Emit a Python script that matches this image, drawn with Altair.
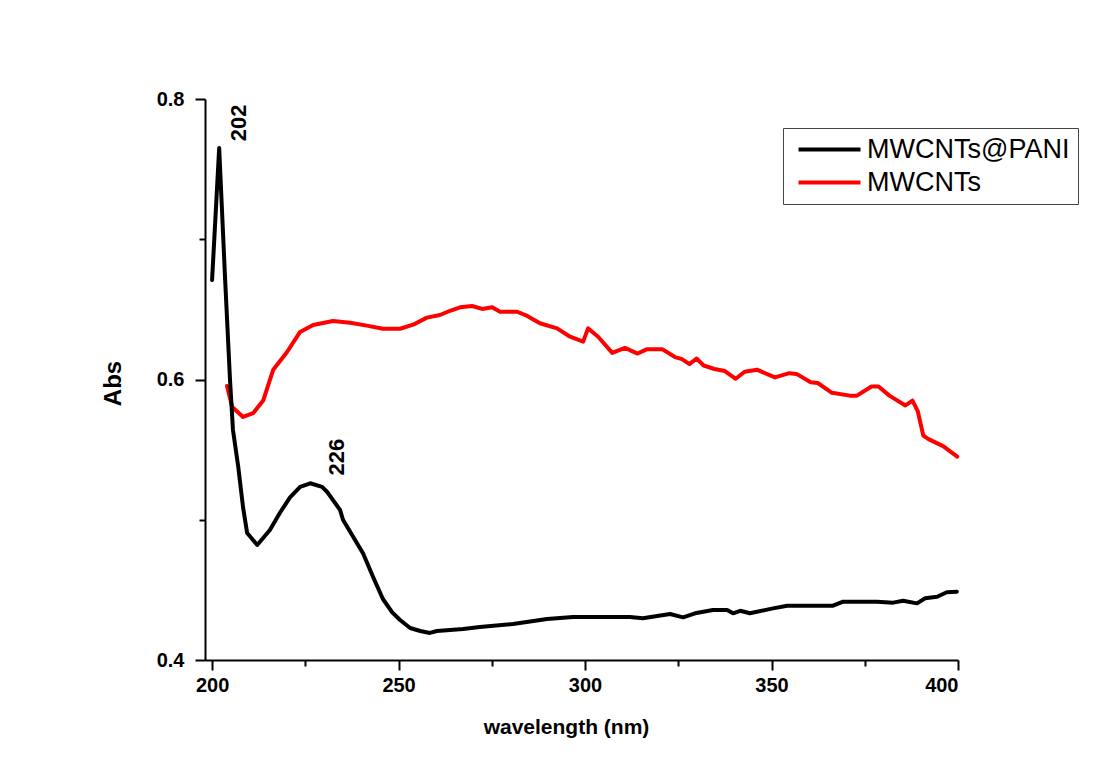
import altair as alt
import pandas as pd

# MWCNTs@PANI (black)
pani_nm = [200.0, 201.9, 203.5, 204.8, 205.6, 207.0, 208.3, 209.4, 212.1, 215.5, 218.2, 220.9,
           223.6, 226.3, 229.5, 230.8, 234.3, 235.1, 240.5, 243.2, 245.8, 248.3, 250.4, 253.1,
           255.8, 258.4, 260.3, 267.3, 271.8, 280.7, 289.8, 296.8, 304.0, 312.0, 315.5, 322.8,
           326.3, 329.5, 334.3, 338.1, 339.7, 341.6, 344.2, 350.4, 354.2, 366.5, 369.2, 378.3,
           382.6, 385.3, 389.0, 391.2, 394.4, 397.0, 399.7]
pani_abs = [0.671, 0.765, 0.671, 0.600, 0.564, 0.538, 0.509, 0.4905, 0.482, 0.4927, 0.505, 0.516,
            0.5234, 0.526, 0.5234, 0.520, 0.507, 0.500, 0.476, 0.459, 0.4435, 0.434, 0.4285, 0.4228,
            0.4207, 0.4193, 0.4207, 0.4221, 0.4235, 0.4257, 0.4292, 0.4307, 0.4307, 0.4307, 0.4297, 0.4328,
            0.4304, 0.4333, 0.4357, 0.4357, 0.4333, 0.4351, 0.4333, 0.4368, 0.4387, 0.4387, 0.4416, 0.4416,
            0.4409, 0.4423, 0.4404, 0.4440, 0.4451, 0.4483, 0.4487]

# MWCNTs (red)
cnt_nm = [204.0, 205.4, 208.3, 211.0, 213.7, 216.4, 220.1, 223.6, 227.1, 232.4, 237.0, 241.5,
          245.8, 250.4, 253.9, 257.6, 261.1, 263.8, 266.5, 269.7, 272.4, 275.1, 277.2, 281.8,
          284.5, 287.9, 292.5, 296.0, 299.5, 300.8, 303.5, 307.3, 310.7, 314.1, 316.5, 320.8,
          324.1, 326.0, 328.0, 329.9, 331.8, 334.7, 337.5, 340.4, 342.8, 346.1, 350.9, 354.8,
          356.7, 360.5, 362.4, 366.2, 371.0, 372.9, 376.8, 378.7, 381.6, 385.9, 387.8, 389.2,
          390.7, 392.1, 396.0, 399.8]
cnt_abs = [0.5954, 0.5804, 0.5733, 0.5760, 0.5850, 0.6070, 0.6196, 0.6339, 0.6389, 0.6417, 0.6405, 0.6384,
           0.6362, 0.6362, 0.6391, 0.6441, 0.6460, 0.6490, 0.6515, 0.6524, 0.6503, 0.6515, 0.6483, 0.6483,
           0.6453, 0.6401, 0.6365, 0.6305, 0.6270, 0.6365, 0.6305, 0.6190, 0.6225, 0.6185, 0.6215, 0.6215,
           0.6160, 0.6145, 0.6110, 0.6150, 0.6100, 0.6075, 0.6060, 0.6005, 0.6055, 0.6070, 0.6015, 0.6045,
           0.6040, 0.5980, 0.5975, 0.5905, 0.5885, 0.5885, 0.5950, 0.5950, 0.5885, 0.5815, 0.5850, 0.5775,
           0.5600, 0.5575, 0.5525, 0.5450]

series_names = ["MWCNTs@PANI", "MWCNTs"]
series_colors = ["#000000", "#ff0000"]

ann_text = ["202", "226"]
ann_nm = [207.2, 233.5]
ann_abs = [0.783, 0.5447]

x_ticks = [200, 225, 250, 275, 300, 325, 350, 375, 400]
y_ticks = [0.4, 0.5, 0.6, 0.7, 0.8]

df = pd.concat([
    pd.DataFrame({"nm": pani_nm, "abs": pani_abs, "series": series_names[0], "i": range(len(pani_nm))}),
    pd.DataFrame({"nm": cnt_nm, "abs": cnt_abs, "series": series_names[1], "i": range(len(cnt_nm))}),
])
ann = pd.DataFrame({"nm": ann_nm, "abs": ann_abs, "t": ann_text})

FONT = "Liberation Sans"

x_enc = alt.X("nm:Q", scale=alt.Scale(domain=[198.1, 400], nice=False, zero=False),
              axis=alt.Axis(values=x_ticks, title="wavelength (nm)",
                            labelExpr="datum.value % 50 === 0 ? datum.label : ''",
                            tickSize={"condition": {"test": "datum.value % 50 === 0", "value": 10}, "value": 6},
                            grid=False, domainColor="black", domainWidth=2, tickColor="black", tickWidth=2,
                            labelFont=FONT, labelFontSize=20, labelFontWeight="bold", labelColor="black",
                            labelPadding=5, titleFont=FONT, titleFontSize=21, titleFontWeight="bold",
                            titleColor="black", titleX=361, titleY=67, titleBaseline="middle",
                            titleAnchor="start", titleAlign="center"))
y_enc = alt.Y("abs:Q", scale=alt.Scale(domain=[0.4, 0.8], nice=False, zero=False),
              axis=alt.Axis(values=y_ticks, title="Abs", format=".1f",
                            labelExpr="round(datum.value*10) % 2 === 0 ? datum.label : ''",
                            tickSize={"condition": {"test": "round(datum.value*10) % 2 === 0", "value": 10}, "value": 6},
                            grid=False, domainColor="black", domainWidth=2, tickColor="black", tickWidth=2,
                            labelFont=FONT, labelFontSize=20, labelFontWeight="bold", labelColor="black",
                            labelPadding=11, titleFont=FONT, titleFontSize=24, titleFontWeight="bold",
                            titleColor="black", titleX=-92, titleY=284, titleAngle=270,
                            titleAlign="center", titleBaseline="middle", titleAnchor="start"))

color = alt.Color("series:N", scale=alt.Scale(domain=series_names, range=series_colors),
                  legend=alt.Legend(title=None, orient="none", legendX=578, legendY=29,
                                    symbolType="M-0.6,0H5.6", symbolSize=400, symbolStrokeWidth=4,
                                    labelFont=FONT, labelFontSize=27, labelColor="black", labelOffset=49,
                                    labelLimit=400, rowPadding=5, padding=8,
                                    strokeColor="#444444", fillColor="white"))

base = alt.Chart(df).mark_line(strokeWidth=4, strokeJoin="round", strokeCap="round").encode(
    x=x_enc, y=y_enc, color=color, order="i:Q")

red = base.transform_filter(alt.datum.series == series_names[1])
black = base.transform_filter(alt.datum.series == series_names[0])

labels = alt.Chart(ann).mark_text(angle=270, font=FONT, fontSize=22, fontWeight="bold",
                                  color="black", align="center", baseline="middle").encode(
    x="nm:Q", y="abs:Q", text="t:N")

chart = alt.layer(red, black, labels).properties(
    width=753, height=561,
    autosize=alt.AutoSizeParams(type="none"),
    padding={"left": 197, "top": 91, "right": 130, "bottom": 100},
    background="white",
).configure_view(strokeWidth=0)

chart.save("out.html", embed_options={"renderer": "svg", "actions": False})
